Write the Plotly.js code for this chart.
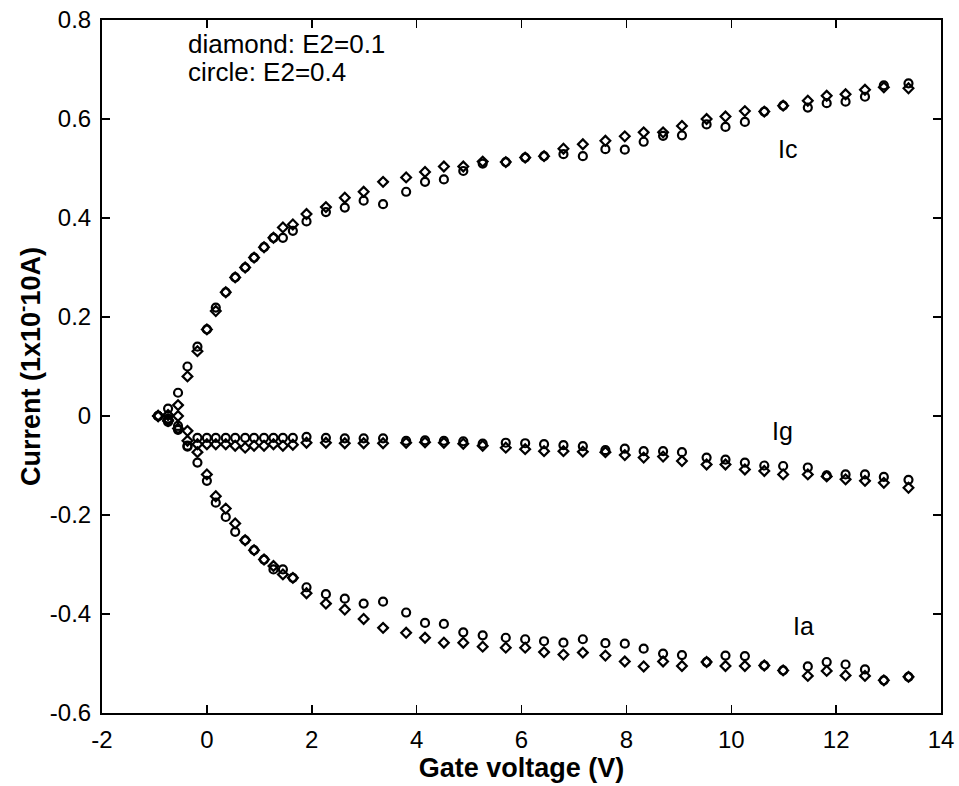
<!DOCTYPE html>
<html>
<head>
<meta charset="utf-8">
<script src="https://cdn.plot.ly/plotly-3.0.1.min.js"></script>
<style>
  html, body { margin: 0; padding: 0; background: #fff; }
  #chart { width: 959px; height: 786px; }
</style>
</head>
<body>
<div id="chart"></div>
<script>
// Gate voltage sweep (V), shared by every measured current
const gateV = [-0.93, -0.74, -0.55, -0.37, -0.18, 0, 0.17, 0.36, 0.54, 0.73, 0.90, 1.09, 1.27, 1.45, 1.64,
  1.90, 2.27, 2.63, 2.99, 3.36, 3.80, 4.16, 4.52, 4.89, 5.26, 5.70, 6.07, 6.43, 6.80, 7.17, 7.60,
  7.97, 8.33, 8.70, 9.06, 9.53, 9.89, 10.26, 10.63, 10.99, 11.46, 11.82, 12.18, 12.55, 12.91, 13.38];

// Collector current Ic (1e-10 A)
const icE2low = [0, 0.002, 0.022, 0.08, 0.131, 0.175, 0.212, 0.25, 0.28, 0.30, 0.32, 0.341, 0.36, 0.381, 0.387,
  0.408, 0.422, 0.441, 0.453, 0.473, 0.482, 0.493, 0.504, 0.504, 0.514, 0.513, 0.522, 0.525, 0.540, 0.549, 0.556,
  0.565, 0.573, 0.573, 0.586, 0.600, 0.605, 0.616, 0.615, 0.627, 0.637, 0.647, 0.650, 0.659, 0.664, 0.662];
const icE2high = [0, 0.015, 0.047, 0.10, 0.14, 0.175, 0.219, 0.25, 0.28, 0.30, 0.32, 0.341, 0.36, 0.36, 0.374,
  0.393, 0.412, 0.421, 0.435, 0.428, 0.453, 0.473, 0.478, 0.495, 0.510, 0.513, 0.522, 0.525, 0.529, 0.525, 0.539,
  0.538, 0.554, 0.566, 0.567, 0.589, 0.584, 0.594, 0.615, 0.627, 0.623, 0.632, 0.635, 0.645, 0.668, 0.672];

// Gate current Ig (1e-10 A)
const igE2low = [0, -0.01, -0.025, -0.05, -0.057, -0.057, -0.057, -0.057, -0.06, -0.064, -0.06, -0.06, -0.057, -0.06, -0.058,
  -0.054, -0.054, -0.055, -0.055, -0.055, -0.054, -0.053, -0.054, -0.056, -0.06, -0.064, -0.067, -0.071, -0.071, -0.072, -0.073,
  -0.079, -0.084, -0.082, -0.091, -0.098, -0.098, -0.108, -0.111, -0.118, -0.118, -0.122, -0.128, -0.131, -0.135, -0.145];
const igE2high = [0, -0.005, -0.02, -0.06, -0.044, -0.044, -0.044, -0.044, -0.044, -0.044, -0.044, -0.044, -0.044, -0.044, -0.044,
  -0.042, -0.044, -0.045, -0.045, -0.045, -0.05, -0.049, -0.05, -0.051, -0.056, -0.054, -0.055, -0.057, -0.059, -0.061, -0.069,
  -0.066, -0.071, -0.071, -0.073, -0.084, -0.088, -0.094, -0.10, -0.101, -0.104, -0.12, -0.118, -0.118, -0.123, -0.129];

// Anode current Ia (1e-10 A)
const iaE2low = [0, -0.008, 0.0, -0.03, -0.073, -0.118, -0.162, -0.187, -0.217, -0.251, -0.271, -0.29, -0.303, -0.32, -0.327,
  -0.358, -0.379, -0.391, -0.41, -0.428, -0.438, -0.448, -0.458, -0.458, -0.466, -0.468, -0.468, -0.477, -0.482, -0.478, -0.484,
  -0.496, -0.506, -0.496, -0.505, -0.497, -0.505, -0.505, -0.504, -0.514, -0.525, -0.515, -0.524, -0.525, -0.534, -0.527];
const iaE2high = [0, -0.012, -0.028, -0.062, -0.094, -0.131, -0.175, -0.204, -0.234, -0.251, -0.271, -0.29, -0.31, -0.31, -0.327,
  -0.346, -0.36, -0.369, -0.379, -0.375, -0.397, -0.418, -0.42, -0.437, -0.443, -0.448, -0.451, -0.455, -0.458, -0.451, -0.459,
  -0.46, -0.47, -0.48, -0.483, -0.497, -0.484, -0.485, -0.504, -0.514, -0.506, -0.497, -0.502, -0.512, -0.534, -0.527];

// Axis ticks
const xTickVals = [-2, 0, 2, 4, 6, 8, 10, 12, 14];
const xTickText = ['-2', '0', '2', '4', '6', '8', '10', '12', '14'];
const yTickVals = [-0.6, -0.4, -0.2, 0, 0.2, 0.4, 0.6, 0.8];
const yTickText = ['-0.6', '-0.4', '-0.2', '0', '0.2', '0.4', '0.6', '0.8'];

const FONT = 'Liberation Sans, Arial, Helvetica, sans-serif';

function series(y, symbol) {
  return {
    x: gateV, y: y, type: 'scatter', mode: 'markers', showlegend: false,
    hoverinfo: 'x+y',
    marker: {
      symbol: symbol,
      size: symbol === 'diamond-open' ? 7.5 : 8,
      color: '#000',
      line: { color: '#000', width: 2.2 }
    }
  };
}

const traces = [
  series(icE2low, 'diamond-open'), series(icE2high, 'circle-open'),
  series(igE2low, 'diamond-open'), series(igE2high, 'circle-open'),
  series(iaE2low, 'diamond-open'), series(iaE2high, 'circle-open')
];

const axisCommon = {
  showgrid: false, zeroline: false,
  showline: true, linecolor: '#000', linewidth: 2,
  mirror: 'ticks', ticks: 'inside', ticklen: 8, tickwidth: 1.5, tickcolor: '#000',
  tickfont: { family: FONT, size: 24, color: '#000' }
};

const layout = {
  width: 959, height: 786,
  margin: { l: 102, r: 18, t: 20, b: 73 },
  paper_bgcolor: '#fff', plot_bgcolor: '#fff',
  font: { family: FONT, color: '#000' },
  xaxis: Object.assign({}, axisCommon, {
    range: [-2, 14], tickmode: 'array', tickvals: xTickVals, ticktext: xTickText,
    ticklabelstandoff: 4,
    title: { text: '<b>Gate voltage (V)</b>', font: { family: FONT, size: 27, color: '#000' }, standoff: 4 }
  }),
  yaxis: Object.assign({}, axisCommon, {
    range: [-0.6, 0.8], tickmode: 'array', tickvals: yTickVals, ticktext: yTickText,
    ticklabelstandoff: 4,
    title: { text: '<b>Current (1x10<sup>-</sup>10A)</b>', font: { family: FONT, size: 27, color: '#000' }, standoff: 1 }
  }),
  annotations: [
    { xref: 'paper', yref: 'paper', x: 0.1, y: 0.966, xanchor: 'left', yanchor: 'middle',
      text: 'diamond: E2=0.1', showarrow: false, font: { family: FONT, size: 26, color: '#000' } },
    { xref: 'paper', yref: 'paper', x: 0.1, y: 0.925, xanchor: 'left', yanchor: 'middle',
      text: 'circle: E2=0.4', showarrow: false, font: { family: FONT, size: 26, color: '#000' } },
    { xref: 'x', yref: 'y', x: 11.08, y: 0.539, text: 'Ic', showarrow: false,
      font: { family: FONT, size: 25, color: '#000' } },
    { xref: 'x', yref: 'y', x: 10.98, y: -0.031, text: 'Ig', showarrow: false,
      font: { family: FONT, size: 25, color: '#000' } },
    { xref: 'x', yref: 'y', x: 11.37, y: -0.425, text: 'Ia', showarrow: false,
      font: { family: FONT, size: 25, color: '#000' } }
  ]
};

Plotly.newPlot('chart', traces, layout, { displayModeBar: false, staticPlot: true });
</script>
</body>
</html>
